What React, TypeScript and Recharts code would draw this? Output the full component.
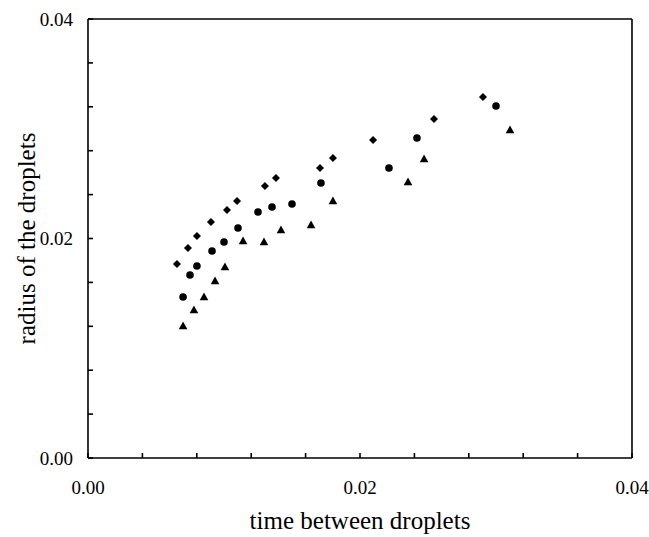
import React from "react";
import {
  ScatterChart,
  Scatter,
  XAxis,
  YAxis,
  ReferenceLine,
} from "recharts";

// time between droplets (t) vs radius of the droplets (r)
const diamondSeries = [
  { t: 0.00654, r: 0.01768 },
  { t: 0.00735, r: 0.01913 },
  { t: 0.00801, r: 0.02023 },
  { t: 0.00904, r: 0.0215 },
  { t: 0.01022, r: 0.0226 },
  { t: 0.01096, r: 0.02342 },
  { t: 0.01301, r: 0.02478 },
  { t: 0.01382, r: 0.02551 },
  { t: 0.01706, r: 0.02642 },
  { t: 0.01801, r: 0.02733 },
  { t: 0.02096, r: 0.02897 },
  { t: 0.02544, r: 0.03089 },
  { t: 0.02904, r: 0.03289 },
];

const circleSeries = [
  { t: 0.00699, r: 0.01467 },
  { t: 0.0075, r: 0.01667 },
  { t: 0.00801, r: 0.01749 },
  { t: 0.00912, r: 0.01886 },
  { t: 0.01, r: 0.01968 },
  { t: 0.01103, r: 0.02096 },
  { t: 0.0125, r: 0.02241 },
  { t: 0.01353, r: 0.02287 },
  { t: 0.015, r: 0.02314 },
  { t: 0.01713, r: 0.02506 },
  { t: 0.02213, r: 0.02642 },
  { t: 0.02419, r: 0.02916 },
  { t: 0.03, r: 0.03207 },
];

const triangleSeries = [
  { t: 0.00699, r: 0.01203 },
  { t: 0.00779, r: 0.01349 },
  { t: 0.00853, r: 0.01467 },
  { t: 0.00934, r: 0.01613 },
  { t: 0.01007, r: 0.0174 },
  { t: 0.0114, r: 0.01977 },
  { t: 0.01294, r: 0.01968 },
  { t: 0.01419, r: 0.02077 },
  { t: 0.0164, r: 0.02123 },
  { t: 0.01801, r: 0.02342 },
  { t: 0.02353, r: 0.02515 },
  { t: 0.02471, r: 0.02724 },
  { t: 0.03103, r: 0.02989 },
];

const axisTicks = [0, 0.004, 0.008, 0.012, 0.016, 0.02, 0.024, 0.028, 0.032, 0.036, 0.04];
const labeledTicks = [0, 0.02, 0.04];

const font = '"Liberation Serif", "DejaVu Serif", serif';

const fmt = (v: number) =>
  labeledTicks.some((l) => Math.abs(l - v) < 1e-9) ? v.toFixed(2) : "";

function marker(kind: string) {
  return (props: any) => {
    const { cx, cy } = props;
    if (cx == null || cy == null) return <g />;
    if (kind === "diamond") {
      return (
        <path
          d={`M${cx},${cy - 4} L${cx + 4},${cy} L${cx},${cy + 4} L${cx - 4},${cy} Z`}
          fill="#000"
        />
      );
    }
    if (kind === "triangle") {
      return (
        <path
          d={`M${cx},${cy - 4.5} L${cx + 4.3},${cy + 3.2} L${cx - 4.3},${cy + 3.2} Z`}
          fill="#000"
        />
      );
    }
    return <circle cx={cx} cy={cy} r={3.8} fill="#000" />;
  };
}

export default function App() {
  const tickStyle = { fill: "#000", fontSize: 19, fontFamily: font };
  return (
    <div
      style={{
        position: "absolute",
        left: 0,
        top: 0,
        background: "#fff",
        fontFamily: font,
      }}
    >
      <style>{`.recharts-wrapper text { font-family: ${font}; }`}</style>
      <ScatterChart
        width={649}
        height={537}
        margin={{ top: 19, right: 17, left: 0, bottom: 0 }}
      >
        <XAxis
          type="number"
          dataKey="t"
          domain={[0, 0.04]}
          ticks={axisTicks}
          tickFormatter={fmt}
          interval={0}
          height={79}
          tickSize={-5}
          tickMargin={28}
          tick={tickStyle}
          stroke="#000"
          strokeWidth={1.6}
          label={{
            value: "time between droplets",
            position: "insideBottom",
            offset: 8,
            style: { fill: "#000", fontSize: 25, fontFamily: font },
          }}
        />
        <YAxis
          type="number"
          dataKey="r"
          domain={[0, 0.04]}
          ticks={axisTicks}
          tickFormatter={fmt}
          interval={0}
          width={88}
          tickSize={-5}
          tickMargin={20}
          tick={tickStyle}
          stroke="#000"
          strokeWidth={1.6}
          label={{
            value: "radius of the droplets",
            angle: -90,
            position: "insideLeft",
            offset: 26,
            style: {
              fill: "#000",
              fontSize: 25,
              fontFamily: font,
              textAnchor: "middle",
            },
          }}
        />
        <ReferenceLine y={0.04} stroke="#000" strokeWidth={1.6} />
        <ReferenceLine x={0.04} stroke="#000" strokeWidth={1.6} />
        <Scatter data={diamondSeries} shape={marker("diamond")} isAnimationActive={false} />
        <Scatter data={circleSeries} shape={marker("circle")} isAnimationActive={false} />
        <Scatter data={triangleSeries} shape={marker("triangle")} isAnimationActive={false} />
      </ScatterChart>
    </div>
  );
}
